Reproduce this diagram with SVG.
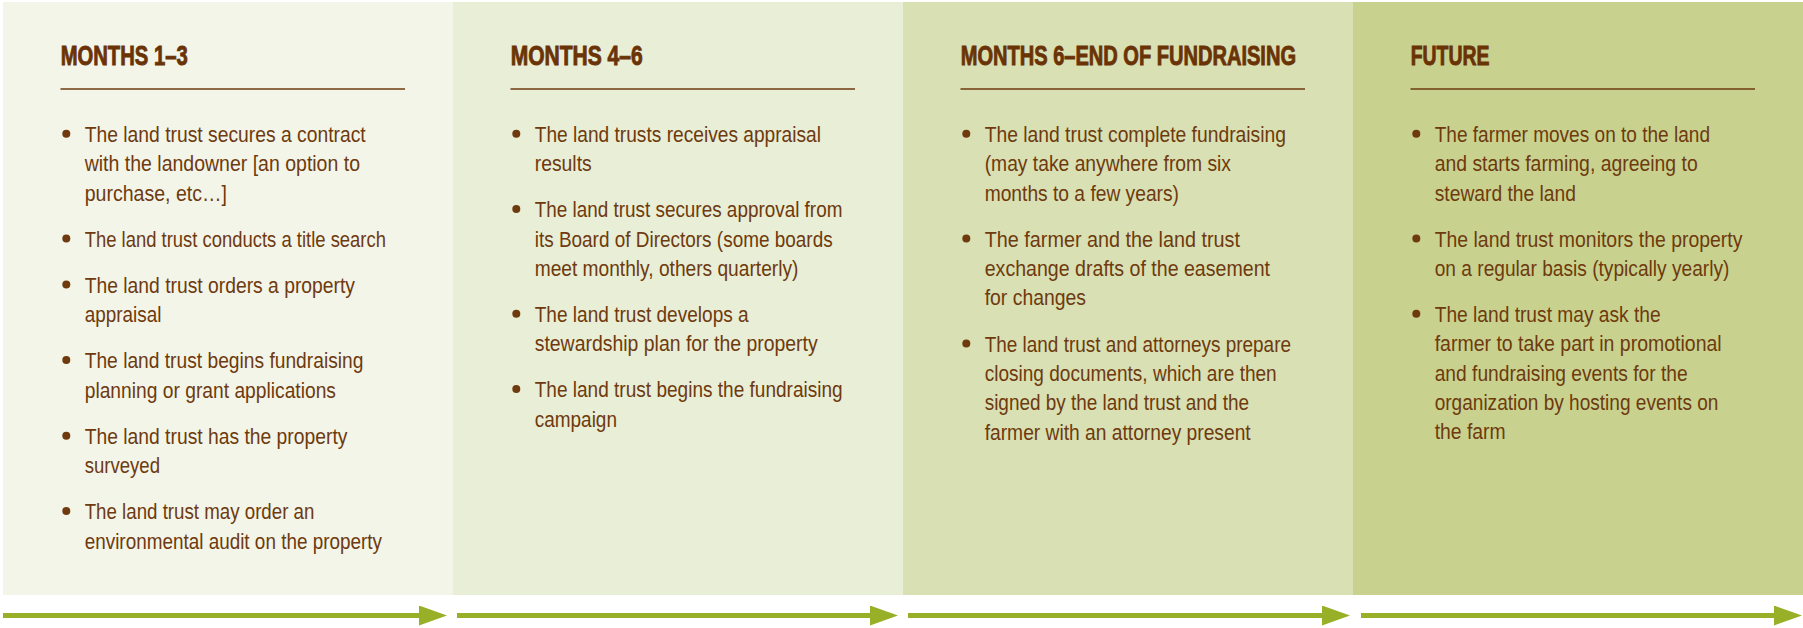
<svg xmlns="http://www.w3.org/2000/svg" width="1803" height="628" viewBox="0 0 1803 628">
<style>
.h{font-family:"Liberation Sans Narrow","Liberation Sans","DejaVu Sans Condensed",sans-serif;font-weight:bold;font-size:27.5px;fill:#6a3306;stroke:#6a3306;stroke-width:0.9}
.b{font-family:"Liberation Sans Narrow","Liberation Sans",sans-serif;font-size:22.5px;fill:#6e3a0e}
.rule{stroke:#6e3a0e;stroke-width:1.6}
.dot{fill:#6e3a0e}
.arr{stroke:#98af28;stroke-width:5;fill:none}
</style>
<defs>
<marker id="head" viewBox="0 0 28 20" refX="0" refY="10" markerWidth="28" markerHeight="20" markerUnits="userSpaceOnUse" orient="auto">
<path d="M0,0 L28,10 L0,20 Z" fill="#98af28"/>
</marker>
</defs>
<rect width="1803" height="628" fill="#ffffff"/>

<g id="months-1-3">
<rect x="3" y="2" width="450" height="593" fill="#f3f5e9"/>
<text class="h" x="60.7" y="64.5" textLength="127" lengthAdjust="spacingAndGlyphs">MONTHS 1–3</text>
<line class="rule" x1="60.5" y1="89" x2="405" y2="89"/>
<circle class="dot" cx="66.3" cy="133.7" r="4"/>
<circle class="dot" cx="66.3" cy="238.4" r="4"/>
<circle class="dot" cx="66.3" cy="284.4" r="4"/>
<circle class="dot" cx="66.3" cy="360" r="4"/>
<circle class="dot" cx="66.3" cy="435.7" r="4"/>
<circle class="dot" cx="66.3" cy="511" r="4"/>
<text class="b" x="84.7" y="142" textLength="281" lengthAdjust="spacingAndGlyphs">The land trust secures a contract</text>
<text class="b" x="84.7" y="171.3" textLength="275.3" lengthAdjust="spacingAndGlyphs">with the landowner [an option to</text>
<text class="b" x="84.7" y="200.6" textLength="142.3" lengthAdjust="spacingAndGlyphs">purchase, etc…]</text>
<text class="b" x="84.7" y="246.7" textLength="301.3" lengthAdjust="spacingAndGlyphs">The land trust conducts a title search</text>
<text class="b" x="84.7" y="292.7" textLength="270.3" lengthAdjust="spacingAndGlyphs">The land trust orders a property</text>
<text class="b" x="84.7" y="322" textLength="76.7" lengthAdjust="spacingAndGlyphs">appraisal</text>
<text class="b" x="84.7" y="368.3" textLength="278.7" lengthAdjust="spacingAndGlyphs">The land trust begins fundraising</text>
<text class="b" x="84.7" y="397.7" textLength="251.3" lengthAdjust="spacingAndGlyphs">planning or grant applications</text>
<text class="b" x="84.7" y="444" textLength="262.7" lengthAdjust="spacingAndGlyphs">The land trust has the property</text>
<text class="b" x="84.7" y="473.3" textLength="75.3" lengthAdjust="spacingAndGlyphs">surveyed</text>
<text class="b" x="84.7" y="519.3" textLength="229.7" lengthAdjust="spacingAndGlyphs">The land trust may order an</text>
<text class="b" x="84.7" y="548.6" textLength="297.3" lengthAdjust="spacingAndGlyphs">environmental audit on the property</text>
</g>

<g id="months-4-6">
<rect x="453" y="2" width="450" height="593" fill="#e9eed6"/>
<text class="h" x="510.7" y="64.5" textLength="132" lengthAdjust="spacingAndGlyphs">MONTHS 4–6</text>
<line class="rule" x1="510.5" y1="89" x2="855" y2="89"/>
<circle class="dot" cx="516.3" cy="133.7" r="4"/>
<circle class="dot" cx="516.3" cy="209" r="4"/>
<circle class="dot" cx="516.3" cy="313.7" r="4"/>
<circle class="dot" cx="516.3" cy="389" r="4"/>
<text class="b" x="534.7" y="142" textLength="286.3" lengthAdjust="spacingAndGlyphs">The land trusts receives appraisal</text>
<text class="b" x="534.7" y="171.3" textLength="57" lengthAdjust="spacingAndGlyphs">results</text>
<text class="b" x="534.7" y="217.3" textLength="307.7" lengthAdjust="spacingAndGlyphs">The land trust secures approval from</text>
<text class="b" x="534.7" y="246.6" textLength="298" lengthAdjust="spacingAndGlyphs">its Board of Directors (some boards</text>
<text class="b" x="534.7" y="276" textLength="263.7" lengthAdjust="spacingAndGlyphs">meet monthly, others quarterly)</text>
<text class="b" x="534.7" y="322" textLength="214" lengthAdjust="spacingAndGlyphs">The land trust develops a</text>
<text class="b" x="534.7" y="351.3" textLength="283" lengthAdjust="spacingAndGlyphs">stewardship plan for the property</text>
<text class="b" x="534.7" y="397.3" textLength="308" lengthAdjust="spacingAndGlyphs">The land trust begins the fundraising</text>
<text class="b" x="534.7" y="426.6" textLength="82.3" lengthAdjust="spacingAndGlyphs">campaign</text>
</g>

<g id="months-6-end">
<rect x="903" y="2" width="450" height="593" fill="#d9e0b3"/>
<text class="h" x="960.7" y="64.5" textLength="335.3" lengthAdjust="spacingAndGlyphs">MONTHS 6–END OF FUNDRAISING</text>
<line class="rule" x1="960.5" y1="89" x2="1305" y2="89"/>
<circle class="dot" cx="966.3" cy="133.7" r="4"/>
<circle class="dot" cx="966.3" cy="238.4" r="4"/>
<circle class="dot" cx="966.3" cy="343.4" r="4"/>
<text class="b" x="984.7" y="142" textLength="301.3" lengthAdjust="spacingAndGlyphs">The land trust complete fundraising</text>
<text class="b" x="984.7" y="171.3" textLength="246.3" lengthAdjust="spacingAndGlyphs">(may take anywhere from six</text>
<text class="b" x="984.7" y="200.6" textLength="194.3" lengthAdjust="spacingAndGlyphs">months to a few years)</text>
<text class="b" x="984.7" y="246.7" textLength="255.3" lengthAdjust="spacingAndGlyphs">The farmer and the land trust</text>
<text class="b" x="984.7" y="276" textLength="285.3" lengthAdjust="spacingAndGlyphs">exchange drafts of the easement</text>
<text class="b" x="984.7" y="305.3" textLength="101.3" lengthAdjust="spacingAndGlyphs">for changes</text>
<text class="b" x="984.7" y="351.7" textLength="306.3" lengthAdjust="spacingAndGlyphs">The land trust and attorneys prepare</text>
<text class="b" x="984.7" y="381" textLength="292" lengthAdjust="spacingAndGlyphs">closing documents, which are then</text>
<text class="b" x="984.7" y="410.3" textLength="264.3" lengthAdjust="spacingAndGlyphs">signed by the land trust and the</text>
<text class="b" x="984.7" y="439.6" textLength="266" lengthAdjust="spacingAndGlyphs">farmer with an attorney present</text>
</g>

<g id="future">
<rect x="1353" y="2" width="450" height="593" fill="#c8d28e"/>
<text class="h" x="1410.7" y="64.5" textLength="78.7" lengthAdjust="spacingAndGlyphs">FUTURE</text>
<line class="rule" x1="1410.5" y1="89" x2="1755" y2="89"/>
<circle class="dot" cx="1416.3" cy="133.7" r="4"/>
<circle class="dot" cx="1416.3" cy="238.4" r="4"/>
<circle class="dot" cx="1416.3" cy="313.7" r="4"/>
<text class="b" x="1434.7" y="142" textLength="275.3" lengthAdjust="spacingAndGlyphs">The farmer moves on to the land</text>
<text class="b" x="1434.7" y="171.3" textLength="263" lengthAdjust="spacingAndGlyphs">and starts farming, agreeing to</text>
<text class="b" x="1434.7" y="200.6" textLength="141.3" lengthAdjust="spacingAndGlyphs">steward the land</text>
<text class="b" x="1434.7" y="246.7" textLength="307.7" lengthAdjust="spacingAndGlyphs">The land trust monitors the property</text>
<text class="b" x="1434.7" y="276" textLength="294.7" lengthAdjust="spacingAndGlyphs">on a regular basis (typically yearly)</text>
<text class="b" x="1434.7" y="322" textLength="226" lengthAdjust="spacingAndGlyphs">The land trust may ask the</text>
<text class="b" x="1434.7" y="351.3" textLength="287" lengthAdjust="spacingAndGlyphs">farmer to take part in promotional</text>
<text class="b" x="1434.7" y="380.6" textLength="253" lengthAdjust="spacingAndGlyphs">and fundraising events for the</text>
<text class="b" x="1434.7" y="410" textLength="283.7" lengthAdjust="spacingAndGlyphs">organization by hosting events on</text>
<text class="b" x="1434.7" y="439.3" textLength="71" lengthAdjust="spacingAndGlyphs">the farm</text>
</g>

<g id="connectors">
<path class="arr" d="M3,615.5 H419" marker-end="url(#head)"/>
<path class="arr" d="M457,615.5 H870" marker-end="url(#head)"/>
<path class="arr" d="M908,615.5 H1322" marker-end="url(#head)"/>
<path class="arr" d="M1361,615.5 H1774" marker-end="url(#head)"/>
</g>
</svg>
